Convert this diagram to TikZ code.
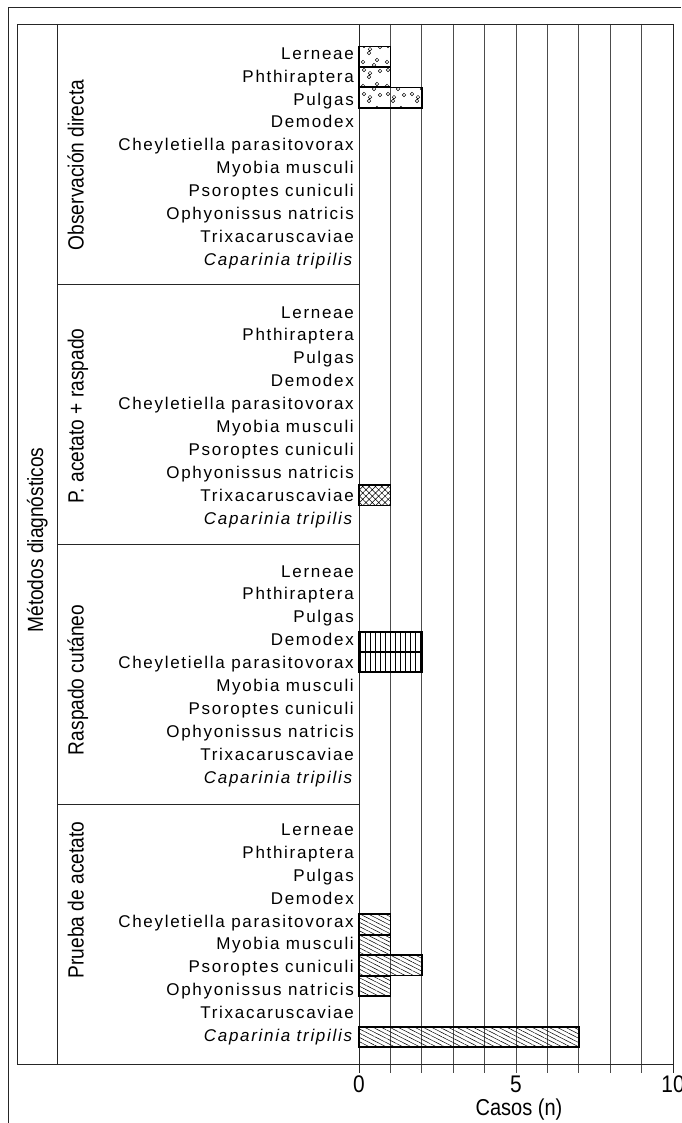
\documentclass[tikz,border=0pt]{standalone}
\usepackage{fontspec}
\setmainfont{Liberation Sans}
\usetikzlibrary{patterns,patterns.meta}
\newcommand{\rowgap}{22.9}
\newcommand{\unitw}{31.4}
\newcommand{\narrow}[1]{\scalebox{0.87}[1]{#1}}
\pgfdeclarepatternformonly{bubbles}{\pgfqpoint{-3pt}{-3pt}}{\pgfqpoint{27pt}{27pt}}{\pgfqpoint{24pt}{24pt}}{
  \pgfsetlinewidth{0.45pt}
  \pgfpathcircle{\pgfqpoint{3pt}{5pt}}{1.8pt}
  \pgfpathcircle{\pgfqpoint{9pt}{14pt}}{1.8pt}
  \pgfpathcircle{\pgfqpoint{10pt}{17.8pt}}{1.8pt}
  \pgfpathcircle{\pgfqpoint{17pt}{7pt}}{1.8pt}
  \pgfpathcircle{\pgfqpoint{20pt}{20pt}}{1.8pt}
  \pgfpathcircle{\pgfqpoint{4pt}{21pt}}{1.8pt}
  \pgfpathcircle{\pgfqpoint{14pt}{2pt}}{1.8pt}
  \pgfusepath{stroke}}
\tikzset{frame/.style={color=#1,line width=0.8pt},frame/.default=black!85}
\tikzset{gridline/.style={color=#1,line width=0.75pt},gridline/.default=black!70}
\tikzset{species/.style={anchor=base east,inner sep=0pt,font=\fontsize{17}{17}\selectfont\addfontfeature{LetterSpace=10}}}
\tikzset{method/.style={rotate=90,anchor=base,inner sep=0pt,font=\fontsize{22}{22}\selectfont}}
\tikzset{axislabel/.style={inner sep=0pt,font=\fontsize{#1}{#1}\selectfont},axislabel/.default=24}
\tikzset{bar/.style={draw,line width=1.6pt}}
\tikzset{fillobs/.style={pattern=bubbles}}
\tikzset{fillacr/.style={pattern={Hatch[angle=45,distance=4.5pt,line width=0.5pt]}}}
\tikzset{fillras/.style={pattern={Lines[angle=90,distance=5pt,line width=0.6pt]}}}
\tikzset{fillpru/.style={pattern={Lines[angle=-27,distance=3.8pt,line width=0.5pt]}}}

\begin{document}
\begin{tikzpicture}[x=1pt,y=-1pt]
  \useasboundingbox (0,0) rectangle (681,1123);
  % outer frame
  \draw [frame] (8,1123) -- (8,7) -- (681,7);

  % grid of the plot
  \foreach \k in {1,...,9}
    \draw [gridline] (359+\unitw*\k,24) -- (359+\unitw*\k,1073);
  \draw [frame] (359,24) -- (359,1073);
  \draw [frame] (673,24) -- (673,1073);

  % table
  \draw [frame] (17,24) rectangle (673,1064);
  \draw [frame] (57,24) -- (57,1064);
  \foreach \s in {1,2,3}
    \draw [frame] (57,24+260*\s) -- (359,24+260*\s);

  % species labels
  \foreach \s/\off in {0/35.3,1/34,2/33,3/31.4}
    \foreach \name [count=\i from 0] in {Lerneae,Phthiraptera,Pulgas,Demodex,
        Cheyletiella parasitovorax,Myobia musculi,Psoroptes cuniculi,
        Ophyonissus natricis,Trixacaruscaviae,\textit{Caparinia tripilis}}
      \node [species] (sp-\s-\i) at (354,24+260*\s+\off+\rowgap*\i) {\name};

  % methods
  \node [method] (metodos) at (43,540) {\narrow{Métodos diagnósticos}};
  \node [method] (obs) at (83.5,165) {\narrow{Observación directa}};
  \node [method] (acr) at (83.5,416) {\narrow{P. acetato + raspado}};
  \node [method] (ras) at (83.5,680) {\narrow{Raspado cutáneo}};
  \node [method] (pru) at (83.5,900) {\narrow{Prueba de acetato}};

  % bars
  \foreach \v/\top/\pat in {1/46.7/fillobs,1/66.7/fillobs,2/87.7/fillobs,
      1/485/fillacr,2/631.7/fillras,2/651.7/fillras,
      1/914/fillpru,1/935/fillpru,2/955/fillpru,1/975.7/fillpru,7/1026.7/fillpru}
    \draw [bar,\pat] (359,\top) rectangle (359+\unitw*\v,\top+20.5);

  % axis
  \foreach \n in {0,5,10}
    \node [axislabel] (tick-\n) at (359+\unitw*\n,1084) {\narrow{\n}};
  \node [axislabel=23] (casos) at (519,1110) {\narrow{Casos (n)}};
\end{tikzpicture}
\end{document}
